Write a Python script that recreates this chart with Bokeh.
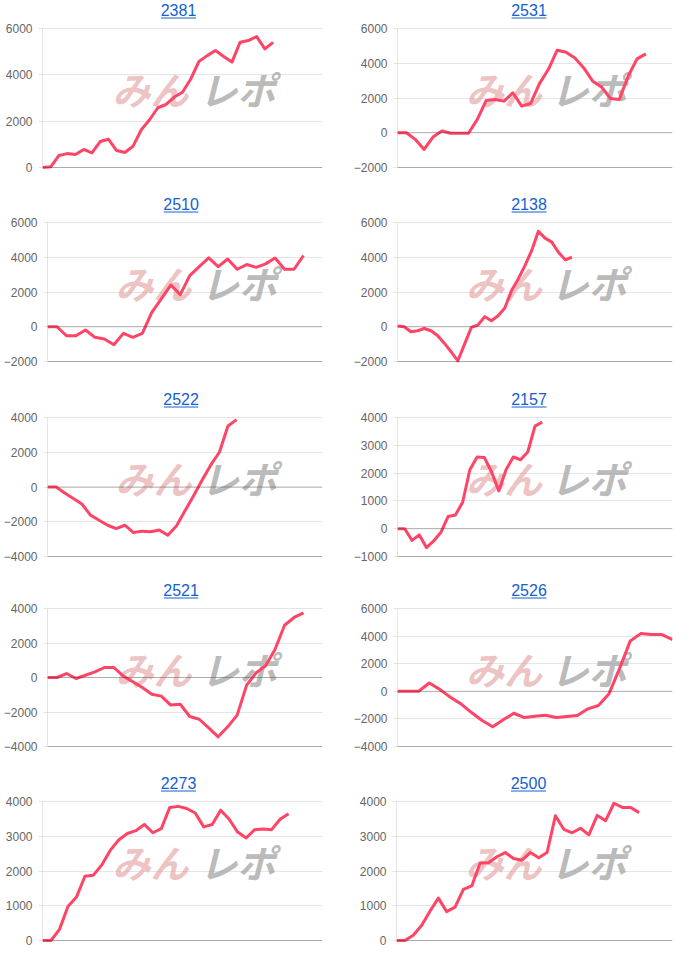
from bokeh.plotting import figure
from bokeh.layouts import column, row
from bokeh.models import Range1d, FixedTicker, Span
from bokeh.core.properties import value
from bokeh.embed import file_html
from bokeh.resources import INLINE

# ---------------- data ----------------
titles = ["2381", "2531", "2510", "2138", "2522", "2157", "2521", "2526", "2273", "2500"]
slots = [35, 32, 30, 42, 33, 39, 30, 27, 34, 34]          # number of x categories per chart
y_min = [0, -2000, -2000, -2000, -4000, -1000, -4000, -4000, 0, 0]
y_max = [6000, 6000, 6000, 6000, 4000, 4000, 4000, 6000, 4000, 4000]
y_step = [2000, 2000, 2000, 2000, 2000, 1000, 2000, 2000, 1000, 1000]

s2381 = [0, 30, 520, 600, 560, 780, 630, 1120, 1220, 730, 650, 920, 1630, 2060, 2580,
         2720, 3040, 3250, 3820, 4580, 4830, 5050, 4790, 4550, 5410, 5480, 5650, 5120, 5400]
s2531 = [0, 0, -380, -960, -250, 100, -30, -30, -30, 770, 1860, 1910, 1820, 2300, 1530,
         1680, 2830, 3640, 4750, 4630, 4300, 3730, 2970, 2640, 1970, 1910, 3250, 4250, 4540]
s2510 = [0, 0, -520, -520, -190, -610, -710, -1040, -380, -610, -380, 830, 1600, 2400,
         1850, 2940, 3460, 3960, 3460, 3900, 3310, 3580, 3420, 3620, 3960, 3310, 3310, 4100]
s2138 = [40, 0, -290, -230, -100, -230, -520, -960, -1440, -1960, -1000, -40, 100, 580,
         350, 630, 1080, 2080, 2750, 3520, 4380, 5500, 5100, 4870, 4290, 3850, 4000]
s2522 = [0, 0, -350, -660, -980, -1620, -1910, -2200, -2390, -2200, -2620, -2540, -2580,
         -2470, -2780, -2240, -1370, -500, 400, 1270, 2000, 3510, 3880]
s2157 = [0, 0, -420, -220, -680, -440, -130, 440, 490, 950, 2120, 2580, 2560, 2040, 1360,
         2120, 2580, 2480, 2760, 3690, 3840]
s2521 = [0, 0, 230, -60, 130, 330, 580, 580, 80, -250, -580, -970, -1080, -1600, -1550,
         -2260, -2420, -2920, -3440, -2860, -2180, -440, 270, 680, 1640, 3030, 3480, 3750]
s2526 = [0, 0, 0, 600, 140, -430, -910, -1540, -2120, -2570, -2070, -1590, -1900, -1800,
         -1730, -1900, -1830, -1750, -1270, -1030, -170, 1660, 3650, 4180, 4110, 4110, 3750]
s2273 = [0, 0, 320, 980, 1250, 1850, 1880, 2180, 2600, 2900, 3080, 3160, 3340, 3100, 3220,
         3830, 3860, 3800, 3670, 3270, 3340, 3750, 3490, 3120, 2950, 3190, 3210, 3190, 3490, 3650]
s2500 = [0, 0, 150, 430, 840, 1220, 830, 960, 1470, 1570, 2230, 2240, 2410, 2530, 2360,
         2310, 2530, 2380, 2530, 3590, 3200, 3100, 3230, 3040, 3600, 3450, 3950, 3830, 3830, 3680]
series = [s2381, s2531, s2510, s2138, s2522, s2157, s2521, s2526, s2273, s2500]

wm_left = "みん"
wm_right = "レポ"

# ---------------- layout geometry (page pixels) ----------------
fig_top = [0, 185, 380, 571, 764]
next_top = [185, 380, 571, 764, 962]
tick_top = [28, 222, 417, 608, 801]
tick_bot = [167, 361, 556, 746, 940]
title_base = [15, 209, 404, 595, 788]

col_x0 = [0, 350]
col_w = [350, 345]
frame_l = [42, 396]
frame_r = [322, 672]
title_cx = [178, 528]
wm_cx = [(150, 237), (503, 588)]

LINE = "#ff4466"
GRID = "rgba(0,0,0,0.1)"
ZERO = "rgba(0,0,0,0.25)"
TITLE_C = "#1560d0"

figs = []
for i, name in enumerate(titles):
    r, c = divmod(i, 2)
    n = slots[i]
    ymn, ymx, st = y_min[i], y_max[i], y_step[i]
    L, R = frame_l[c], frame_r[c]
    W = R - L
    T, B = tick_top[r], tick_bot[r]

    def xd(px):
        return (px - L) / W * (n - 1)

    def yd(py):
        return ymn + (B - py) / (B - T) * (ymx - ymn)

    f_top = fig_top[r]
    f_bot = B + 3
    height = next_top[r] - fig_top[r]
    p = figure(width=col_w[c], height=height, output_backend="svg", toolbar_location=None,
               x_range=Range1d(0, n - 1), y_range=Range1d(yd(f_bot), yd(f_top)),
               min_border_left=L - col_x0[c], min_border_right=col_x0[c] + col_w[c] - R,
               min_border_top=0, min_border_bottom=height - (f_bot - f_top),
               background_fill_color="white", border_fill_color="white")
    p.outline_line_color = None
    p.xaxis.visible = False
    p.xgrid.visible = False

    ticks = list(range(ymn, ymx + 1, st))
    ax = p.yaxis[0]
    ax.ticker = FixedTicker(ticks=ticks)
    ax.bounds = (ymn, ymx)
    ax.axis_line_color = GRID
    ax.major_tick_line_color = GRID
    ax.major_tick_out = 4
    ax.major_tick_in = 0
    ax.minor_tick_line_color = None
    ax.major_label_standoff = 6
    ax.major_label_text_font = "Liberation Sans"
    ax.major_label_text_font_size = "12px"
    ax.major_label_text_color = "#666666"
    p.ygrid.ticker = FixedTicker(ticks=ticks)
    p.ygrid.grid_line_color = GRID

    # watermark
    wy = yd(T + 60)
    p.text(x=[xd(wm_cx[c][0])], y=[wy], text=[wm_left], text_font=value("Noto Sans CJK JP"),
           text_font_size="38px", text_font_style="bold italic", text_color="#e3a0a0",
           text_alpha=0.65, text_align="center", text_baseline="middle")
    p.text(x=[xd(wm_cx[c][1])], y=[wy], text=[wm_right], text_font=value("Noto Sans CJK JP"),
           text_font_size="38px", text_font_style="bold italic", text_color="#a8a8a8",
           text_alpha=0.8, text_align="center", text_baseline="middle")

    # zero line and bottom line
    p.add_layout(Span(location=0, dimension="width", line_color=ZERO, line_width=1))
    if ymn != 0:
        p.add_layout(Span(location=ymn, dimension="width", line_color=ZERO, line_width=1))

    # data line
    ys = series[i]
    p.line(list(range(len(ys))), ys, line_color=LINE, line_width=3, line_join="round")

    # title (underlined link style)
    tb = title_base[r]
    p.text(x=[xd(title_cx[c])], y=[yd(tb - 5.8)], text=[name], text_font=value("Liberation Sans"),
           text_font_size="16px", text_color=TITLE_C, text_align="center",
           text_baseline="middle")
    p.segment(x0=[xd(title_cx[c] - 17.5)], y0=[yd(tb + 2.5)], x1=[xd(title_cx[c] + 17.5)],
              y1=[yd(tb + 2.5)], line_color=TITLE_C, line_width=1)
    figs.append(p)

layout = column(*[row(figs[2 * k], figs[2 * k + 1]) for k in range(5)])
open("out.html", "w").write(file_html(layout, INLINE))
